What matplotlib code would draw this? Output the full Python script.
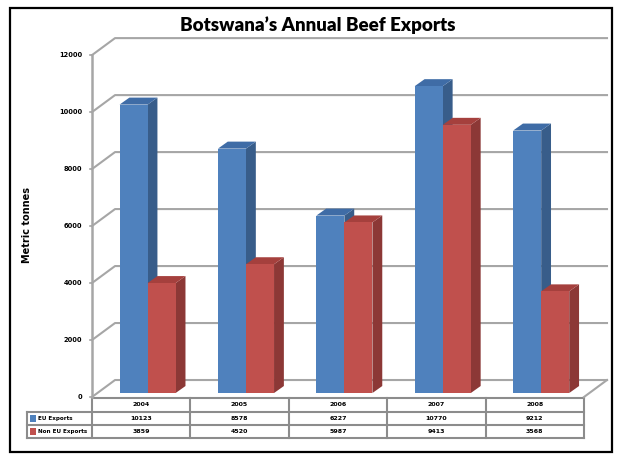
import matplotlib.pyplot as plt
from matplotlib.patches import Polygon, Rectangle

years = ['2004', '2005', '2006', '2007', '2008']
eu_exports = [10123, 8578, 6227, 10770, 9212]
non_eu_exports = [3859, 4520, 5987, 9413, 3568]
series_names = ['EU Exports', 'Non EU Exports']
y_ticks = [0, 2000, 4000, 6000, 8000, 10000, 12000]

front_cols = ['#4F81BD', '#C0504D']
side_cols = ['#385D8A', '#8C3836']
top_cols = ['#3F6CA6', '#A5403D']
grid_col = '#A6A6A6'

W, H = 620, 457
fig = plt.figure(figsize=(W / 100, H / 100), dpi=100)

# background axes in pixel units for border and data table
bg = fig.add_axes([0, 0, 1, 1])
bg.set_xlim(0, W)
bg.set_ylim(H, 0)
bg.axis('off')
bg.add_patch(Rectangle((10, 8), 602, 444, fill=False, ec='black', lw=1.6))
bg.text(318, 25, "Botswana\u2019s Annual Beef Exports", ha='center', va='center',
        fontsize=13.5, fontweight='heavy', family='Lato')

# main 3d-ish axes: x in category units, y in tonnes
ax = fig.add_axes([92 / W, (H - 397) / H, 515 / W, 359 / H])
dxw, dyw = 0.234, 596
ax.set_xlim(0, 5 + dxw)
ax.set_ylim(0, 12600)
ax.axis('off')

for v in y_ticks:
    ax.plot([0, dxw, 5 + dxw], [v, v + dyw, v + dyw], color=grid_col, lw=1.5, zorder=1,
            clip_on=False)
    ax.plot([-0.02, 0], [v, v], color=grid_col, lw=1.2, clip_on=False)
    ax.text(-0.1, v, f'{v}', ha='right', va='center', fontsize=4.8, fontweight='bold')
ax.plot([0, 0], [0, 12000], color=grid_col, lw=1.8, zorder=2, clip_on=False)
ax.plot([5, 5 + dxw], [0, dyw], color=grid_col, lw=1.5, zorder=1, clip_on=False)

bw = 0.285
depth_x, depth_y = 0.10, 245
base = 140
for i in range(len(years)):
    for s, vals in enumerate([eu_exports, non_eu_exports]):
        x0 = i + 0.28 + s * bw
        top = base + vals[i]
        ax.add_patch(Polygon([(x0 + bw, base), (x0 + bw + depth_x, base + depth_y),
                              (x0 + bw + depth_x, top + depth_y), (x0 + bw, top)],
                             closed=True, fc=side_cols[s], ec='none', zorder=3 + 2 * s))
        ax.add_patch(Polygon([(x0, top), (x0 + depth_x, top + depth_y),
                              (x0 + bw + depth_x, top + depth_y), (x0 + bw, top)],
                             closed=True, fc=top_cols[s], ec='none', zorder=3 + 2 * s))
        ax.bar(x0, vals[i], width=bw, bottom=base, align='edge', color=front_cols[s],
               zorder=4 + 2 * s)

fig.text(27 / W, (H - 225) / H, 'Metric tonnes', rotation=90, ha='center', va='center',
         fontsize=7, fontweight='bold')

# data table under the chart
col_w = 98.4
x_left, x_tab = 27, 92
rows_y = [398, 412, 425, 438]
tl = dict(color='#8C8C8C', lw=1.5)
bg.plot([x_tab, x_tab + 5 * col_w], [rows_y[0]] * 2, **tl)
for r in rows_y[1:]:
    bg.plot([x_left, x_tab + 5 * col_w], [r, r], **tl)
bg.plot([x_left, x_left], [rows_y[1], rows_y[3]], **tl)
for c in range(6):
    bg.plot([x_tab + c * col_w] * 2, [rows_y[0], rows_y[3]], **tl)

for c, yr in enumerate(years):
    cx = x_tab + (c + 0.5) * col_w
    bg.text(cx, (rows_y[0] + rows_y[1]) / 2, yr, ha='center', va='center',
            fontsize=4.5, fontweight='bold')
    bg.text(cx, (rows_y[1] + rows_y[2]) / 2, str(eu_exports[c]), ha='center',
            va='center', fontsize=4.5, fontweight='bold')
    bg.text(cx, (rows_y[2] + rows_y[3]) / 2, str(non_eu_exports[c]), ha='center',
            va='center', fontsize=4.5, fontweight='bold')

for s, name in enumerate(series_names):
    yc = (rows_y[1 + s] + rows_y[2 + s]) / 2
    bg.add_patch(Rectangle((30, yc - 3.5), 6, 7, fc=front_cols[s], ec='none'))
    bg.text(38, yc, name, ha='left', va='center', fontsize=4.1, fontweight='bold')

fig.savefig('out.png', dpi=100)
